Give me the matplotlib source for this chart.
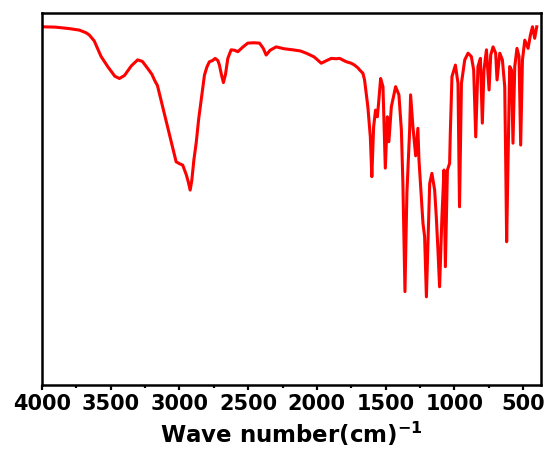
import matplotlib
matplotlib.use("Agg")
import matplotlib.pyplot as plt
from matplotlib.ticker import MultipleLocator

# FTIR spectrum, wavenumber (cm-1) vs. transmittance (arbitrary %)
wavenumber = [
    4000, 3900, 3800, 3728, 3680, 3656, 3620, 3570, 3520, 3470, 3437, 3400,
    3350, 3304, 3270, 3231, 3200, 3182, 3160, 3122, 3080, 3050, 3024, 3000,
    2976, 2950, 2935, 2922, 2910, 2895, 2878, 2860, 2842, 2818, 2800, 2782,
    2760, 2740, 2720, 2709, 2695, 2680, 2665, 2648, 2624, 2600, 2575, 2540,
    2503, 2460, 2417, 2390, 2369, 2340, 2296, 2240, 2175, 2120, 2077, 2020,
    1968, 1930, 1895, 1860, 1835, 1786, 1750, 1726, 1700, 1689, 1665, 1653,
    1629, 1611, 1600, 1587, 1573, 1560, 1551, 1536, 1519, 1502, 1487, 1476,
    1458, 1427, 1403, 1385, 1374, 1359, 1345, 1325, 1318, 1301, 1281, 1265,
    1257, 1240, 1228, 1216, 1203, 1192, 1179, 1163, 1143, 1131, 1119, 1107,
    1090, 1075, 1065, 1050, 1034, 1029, 1017, 992, 973, 962, 948, 924,
    900, 876, 859, 844, 828, 810, 796, 784, 766, 747, 735, 718,
    699, 689, 669, 650, 633, 626, 619, 609, 597, 584, 573, 560,
    544, 529, 517, 504, 487, 463, 446, 431, 415, 400,
]
transmittance = [
    96.3, 96.2, 95.8, 95.4, 94.7, 94.1, 92.5, 88.3, 85.5, 83.0, 82.4, 83.2,
    85.8, 87.4, 87.0, 85.1, 83.5, 82.0, 80.5, 74.8, 68.5, 64.0, 60.0, 59.5,
    59.1, 56.5, 54.5, 52.4, 55.0, 60.5, 65.1, 71.5, 76.6, 83.3, 85.5, 86.9,
    87.2, 87.8, 87.2, 86.0, 83.5, 81.3, 83.5, 87.8, 90.1, 90.0, 89.6, 90.8,
    91.9, 92.0, 91.9, 90.5, 88.7, 90.0, 90.9, 90.4, 90.1, 89.8, 89.2, 88.2,
    86.5, 87.2, 87.8, 87.7, 87.8, 86.9, 86.5, 86.0, 85.2, 84.7, 83.8, 82.0,
    74.8, 66.7, 56.0, 69.4, 73.9, 72.1, 75.7, 82.4, 80.2, 58.3, 72.1, 65.4,
    74.8, 80.2, 78.0, 68.5, 54.2, 25.1, 51.5, 68.5, 78.0, 69.4, 61.6, 69.0,
    60.5, 50.6, 43.5, 39.9, 23.7, 38.1, 54.2, 56.9, 52.4, 45.2, 36.3, 26.4,
    45.2, 57.8, 31.8, 57.8, 59.6, 67.7, 82.9, 86.0, 81.1, 47.9, 81.1, 87.4,
    89.2, 88.3, 84.7, 66.7, 85.6, 87.8, 70.4, 84.7, 90.1, 79.3, 88.7, 90.9,
    89.2, 82.0, 89.2, 87.4, 80.2, 60.5, 38.5, 60.5, 85.6, 84.7, 65.0, 85.6,
    90.5, 88.3, 64.5, 87.4, 92.7, 90.5, 94.1, 96.3, 93.2, 96.3,
]

fig = plt.figure(figsize=(5.47, 4.63), dpi=100)
ax = fig.add_axes([0.0768, 0.1685, 0.912, 0.8034])

ax.plot(wavenumber, transmittance, color="#ff0000", linewidth=2.2,
        solid_joinstyle="round")

ax.set_xlim(4000, 370)
ax.set_ylim(0, 100)
ax.xaxis.set_major_locator(MultipleLocator(500))
ax.xaxis.set_minor_locator(MultipleLocator(250))
ax.set_yticks([])

for spine in ax.spines.values():
    spine.set_linewidth(1.8)

ax.tick_params(axis="x", which="major", length=3.8, width=1.6, pad=3,
               labelsize=15)
ax.tick_params(axis="x", which="minor", length=2.2, width=1.6)
for lbl in ax.get_xticklabels():
    lbl.set_fontweight("bold")

plt.rcParams["mathtext.fontset"] = "dejavusans"
ax.set_xlabel(r"Wave number(cm)$^{\mathbf{-1}}$", fontsize=16.5,
              fontweight="bold", labelpad=4)

fig.savefig("out.png", dpi=100)
